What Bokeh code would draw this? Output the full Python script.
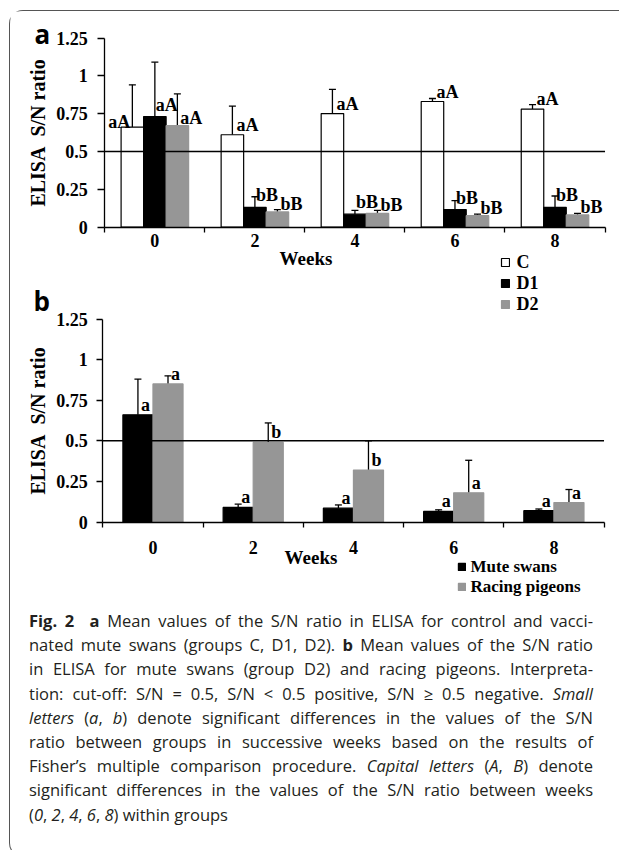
import numpy as np
from bokeh.plotting import figure
from bokeh.models import (ColumnDataSource, Range1d, FixedTicker, NumeralTickFormatter,
                          Whisker, TeeHead, Label, Legend, LegendItem, Div, LinearAxis,
                          CDSView, IndexFilter, Spacer)
from bokeh.layouts import column, row
from bokeh.transform import dodge
from bokeh.core.properties import value
from bokeh.embed import file_html
from bokeh.resources import INLINE

# ---------------- data ----------------
weeks = ["0", "2", "4", "6", "8"]
y_ticks = [0, 0.25, 0.5, 0.75, 1.0, 1.25]
cutoff = 0.5

# panel a: groups C, D1, D2 (mean and SD)
a_C = [0.66, 0.61, 0.75, 0.83, 0.78]
a_C_sd = [0.28, 0.19, 0.16, 0.02, 0.03]
a_D1 = [0.73, 0.13, 0.085, 0.115, 0.13]
a_D1_sd = [0.36, 0.07, 0.025, 0.06, 0.075]
a_D2 = [0.67, 0.10, 0.09, 0.075, 0.08]
a_D2_sd = [0.21, 0.015, 0.02, 0.01, 0.01]
a_C_lab = ["aA", "aA", "aA", "aA", "aA"]
a_D1_lab = ["aA", "bB", "bB", "bB", "bB"]
a_D2_lab = ["aA", "bB", "bB", "bB", "bB"]

# panel b: mute swans and racing pigeons
b_swans = [0.66, 0.09, 0.085, 0.065, 0.07]
b_swans_sd = [0.22, 0.02, 0.02, 0.01, 0.01]
b_pigeons = [0.85, 0.49, 0.32, 0.18, 0.12]
b_pigeons_sd = [0.05, 0.12, 0.18, 0.20, 0.08]
b_swans_lab = ["a", "a", "a", "a", "a"]
b_pigeons_lab = ["a", "b", "b", "a", "a"]

caption_lines = [
    "<b>Fig.&nbsp;2</b>&nbsp;&nbsp;<b>a</b> Mean values of the S/N ratio in ELISA for control and vacci-",
    "nated mute swans (groups C, D1, D2). <b>b</b> Mean values of the S/N ratio",
    "in ELISA for mute swans (group D2) and racing pigeons. Interpreta-",
    "tion: cut-off: S/N = 0.5, S/N &lt; 0.5 positive, S/N &ge; 0.5 negative. <i>Small</i>",
    "<i>letters</i> (<i>a</i>, <i>b</i>) denote significant differences in the values of the S/N",
    "ratio between groups in successive weeks based on the results of",
    "Fisher&rsquo;s multiple comparison procedure. <i>Capital letters</i> (<i>A</i>, <i>B</i>) denote",
    "significant differences in the values of the S/N ratio between weeks",
    "(<i>0</i>, <i>2</i>, <i>4</i>, <i>6</i>, <i>8</i>) within groups",
]

# ---------------- layout constants (page pixels) ----------------
SERIF = "Liberation Serif"
SANS = "Open Sans"
GRAY = "#969696"
PAD_X, PAD_Y, BORDER = 9, 10, 1.5
CX, CY = PAD_X + BORDER, PAD_Y + BORDER      # page position of the canvas corner
FW, FH = 610, 589                            # canvas size
DIV_H = 246
n = len(weeks)
x_centers = [i + 0.5 for i in range(n)]


def x_range_px(p0, p5):
    k = n / (p5 - p0)
    return Range1d((CX - p0) * k, (CX + FW - p0) * k)


def y_range_px(p0, ptop):
    k = (y_ticks[-1] - y_ticks[0]) / (p0 - ptop)
    return Range1d((p0 - (CY + FH)) * k, (p0 - CY) * k)


p = figure(width=FW, height=FH, x_range=x_range_px(105, 606), y_range=y_range_px(227, 38),
           output_backend="svg", toolbar_location=None, min_border=0)
p.extra_x_ranges = {"b": x_range_px(103, 605)}
p.extra_y_ranges = {"b": y_range_px(522, 319)}
p.grid.visible = False
p.outline_line_color = None
p.background_fill_color = "white"
p.border_fill_color = "white"


def style_xaxis(xa, standoff):
    xa.fixed_location = y_ticks[0]
    xa.bounds = (0, n)
    xa.ticker = FixedTicker(ticks=x_centers, minor_ticks=list(range(n + 1)))
    xa.major_label_overrides = {c: w for c, w in zip(x_centers, weeks)}
    xa.major_tick_line_color = None
    xa.minor_tick_line_color = "black"
    xa.minor_tick_line_width = 1.3
    xa.minor_tick_out = 5
    xa.minor_tick_in = 0
    xa.axis_line_color = "black"
    xa.axis_line_width = 1.3
    xa.major_label_standoff = standoff
    xa.major_label_text_font = SERIF
    xa.major_label_text_font_style = "bold"
    xa.major_label_text_font_size = "18px"
    xa.major_label_text_color = "black"


def style_yaxis(ya, tick_out, standoff):
    ya.fixed_location = 0
    ya.bounds = (y_ticks[0], y_ticks[-1])
    ya.ticker = FixedTicker(ticks=y_ticks)
    ya.formatter = NumeralTickFormatter(format="0.[00]")
    ya.axis_line_color = "black"
    ya.axis_line_width = 1.3
    ya.major_tick_line_color = "black"
    ya.major_tick_line_width = 1.3
    ya.major_tick_out = tick_out
    ya.major_tick_in = 0
    ya.minor_tick_line_color = None
    ya.major_label_standoff = standoff
    ya.major_label_text_font = SERIF
    ya.major_label_text_font_style = "bold"
    ya.major_label_text_font_size = "18px"
    ya.major_label_text_color = "black"
    ya.axis_label = "ELISA\u00a0\u00a0S/N ratio"
    ya.axis_label_text_font = SERIF
    ya.axis_label_text_font_style = "bold"
    ya.axis_label_text_font_size = "20px"
    ya.axis_label_text_color = "black"
    ya.axis_label_standoff = 4


# panel a axes (default ranges)
style_xaxis(p.xaxis[0], 1)
style_yaxis(p.yaxis[0], 7, 10)
# panel b axes (extra ranges)
xb = LinearAxis(x_range_name="b", y_range_name="b")
yb = LinearAxis(x_range_name="b", y_range_name="b")
p.add_layout(xb, "below")
p.add_layout(yb, "left")
style_xaxis(xb, 13)
style_yaxis(yb, 6, 9)


def rng(panel):
    return {} if panel == "a" else {"x_range_name": "b", "y_range_name": "b"}


def add_series(panel, src, xoff, width, top, up, fill, line):
    r = p.vbar(x=dodge("x", xoff), top=top, width=width, source=src,
               fill_color=fill, line_color=line, line_width=1.2, **rng(panel))
    p.add_layout(Whisker(base=dodge("x", xoff), lower=top, upper=up, source=src,
                         dimension="height", line_color="black", line_width=1.3,
                         upper_head=TeeHead(size=7, line_color="black", line_width=1.3),
                         lower_head=None, **rng(panel)))
    return r


def add_labels(panel, src, xoff, top, lab, x_offset, y_offset, align, idx):
    p.text(x=dodge("x", xoff), y=top, text=lab, source=src,
           view=CDSView(filter=IndexFilter(idx)),
           x_offset=x_offset, y_offset=y_offset, text_align=align, text_baseline="middle",
           text_font=value(SERIF), text_font_style="bold", text_font_size="18px",
           text_color="black", **rng(panel))


def cutoff_line(panel):
    p.segment(x0=0, x1=n, y0=cutoff, y1=cutoff, line_color="black", line_width=1.5,
              **rng(panel))


def page_label(px, py, text, font, size, align="left", baseline="alphabetic"):
    p.add_layout(Label(x=px - CX, y=CY + FH - py, x_units="screen", y_units="screen",
                       text=text, text_align=align, text_baseline=baseline, text_font=font,
                       text_font_style="bold", text_font_size=size, text_color="black"))


def legend_at(items, px_left, py_bottom, row_h, glyph, font_size, standoff):
    p.add_layout(Legend(items=items, location=(px_left - CX, CY + FH - py_bottom),
                        padding=0, margin=0, spacing=0, label_height=row_h,
                        glyph_width=glyph, glyph_height=glyph, label_standoff=standoff,
                        border_line_color=None, background_fill_alpha=0,
                        label_text_font=SERIF, label_text_font_style="bold",
                        label_text_font_size=font_size, label_text_color="black"))


# ---------------- panel a ----------------
src_a = ColumnDataSource(dict(
    x=x_centers,
    C=a_C, D1=a_D1, D2=a_D2,
    C_up=list(np.add(a_C, a_C_sd)), D1_up=list(np.add(a_D1, a_D1_sd)),
    D2_up=list(np.add(a_D2, a_D2_sd)),
    C_lab=a_C_lab, D1_lab=a_D1_lab, D2_lab=a_D2_lab))

bw_a = 0.225
rC = add_series("a", src_a, -bw_a, bw_a, "C", "C_up", "white", "black")
rD1 = add_series("a", src_a, 0, bw_a, "D1", "D1_up", "black", "black")
rD2 = add_series("a", src_a, bw_a, bw_a, "D2", "D2_up", GRAY, GRAY)
cutoff_line("a")
add_labels("a", src_a, -bw_a, "C", "C_lab", -2, -5, "right", [0])
add_labels("a", src_a, -bw_a, "C", "C_lab", 4, -10, "left", list(range(1, n)))
add_labels("a", src_a, 0, "D1", "D1_lab", 1, -12, "left", list(range(n)))
add_labels("a", src_a, bw_a, "D2", "D2_lab", 3, -8, "left", list(range(n)))

legend_at([LegendItem(label="C", renderers=[rC]),
           LegendItem(label="D1", renderers=[rD1]),
           LegendItem(label="D2", renderers=[rD2])],
          500, 315, 20, 10, "18px", 7)
page_label(306, 258, "Weeks", SERIF, "19px", "center", "middle")
page_label(34.5, 34, "a", SANS, "26px")
page_label(33.5, 301, "b", SANS, "26px")

# ---------------- panel b ----------------
src_b = ColumnDataSource(dict(
    x=x_centers, S=b_swans, P=b_pigeons,
    S_up=list(np.add(b_swans, b_swans_sd)), P_up=list(np.add(b_pigeons, b_pigeons_sd)),
    S_lab=b_swans_lab, P_lab=b_pigeons_lab))
bw_b = 0.3
rS = add_series("b", src_b, -bw_b / 2, bw_b, "S", "S_up", "black", "black")
rP = add_series("b", src_b, bw_b / 2, bw_b, "P", "P_up", GRAY, GRAY)
cutoff_line("b")
add_labels("b", src_b, -bw_b / 2, "S", "S_lab", 3, -10, "left", list(range(n)))
add_labels("b", src_b, bw_b / 2, "P", "P_lab", 3, -10, "left", list(range(n)))

legend_at([LegendItem(label="Mute swans", renderers=[rS]),
           LegendItem(label="Racing pigeons", renderers=[rP])],
          457, 597, 19, 9, "17px", 5)
page_label(311, 557.5, "Weeks", SERIF, "19px", "center", "middle")

# ---------------- caption ----------------
line_divs = []
for i, ln in enumerate(caption_lines):
    last = "left" if i == len(caption_lines) - 1 else "justify"
    line_divs.append(
        f'<div style="text-align:justify;text-align-last:{last};white-space:nowrap;">{ln}</div>')
cap_html = (f'<div style="font-family:\'{SANS}\';font-size:16.5px;line-height:24.2px;'
            f'color:#231f20;padding-left:14px;padding-top:4px;width:578px;">'
            + "".join(line_divs) + "</div>")
cap = Div(text=cap_html, width=FW, height=DIV_H)

inner = column(p, cap, width=FW,
               styles={"border-top": f"{BORDER}px solid #555", "border-left": f"{BORDER}px solid #555",
                       "border-bottom": f"{BORDER}px solid #555",
                       "border-top-left-radius": "14px", "border-bottom-left-radius": "14px"})
layout = column(Spacer(height=PAD_Y), row(Spacer(width=PAD_X), inner))

open("out.html", "w", encoding="utf-8").write(file_html(layout, INLINE, title="Fig. 2"))
